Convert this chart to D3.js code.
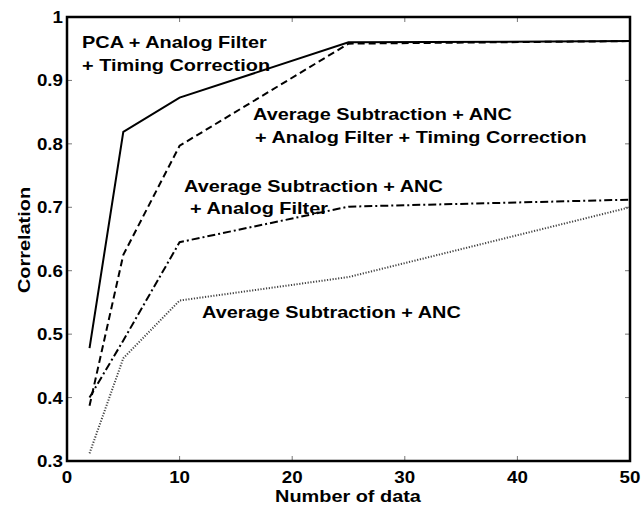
<!DOCTYPE html>
<html>
<head>
<meta charset="utf-8">
<script src="https://cdn.jsdelivr.net/npm/d3@7"></script>
<style>
  html, body { margin: 0; padding: 0; background: #fff; overflow: hidden; }
  svg { display: block; }
  svg text { font-family: "Liberation Sans", Arial, Helvetica, sans-serif; font-weight: bold; fill: #000; }
</style>
</head>
<body>
<svg class="chart" width="642" height="505"></svg>
<script>
// number of data points used
const xValues = [2, 5, 10, 25, 50];

// correlation for each method
const pcaAnalogTiming = [0.478, 0.819, 0.873, 0.960, 0.962];
const avgAncAnalogTiming = [0.387, 0.625, 0.797, 0.958, 0.962];
const avgAncAnalog = [0.400, 0.490, 0.645, 0.701, 0.712];
const avgAnc = [0.312, 0.462, 0.553, 0.590, 0.700];

const xTicks = [0, 10, 20, 30, 40, 50];
const yTicks = [0.3, 0.4, 0.5, 0.6, 0.7, 0.8, 0.9, 1];

const series = [
  { values: pcaAnalogTiming, dash: null, color: "#000", width: 2 },
  { values: avgAncAnalogTiming, dash: "7,4", color: "#000", width: 2 },
  { values: avgAncAnalog, dash: "8,3,2,3", color: "#000", width: 2 },
  { values: avgAnc, dash: "1.2,1.6", color: "#444", width: 2 }
];

const svg = d3.select(".chart");
const margin = { top: 17, right: 12, bottom: 44, left: 67 };
const width = +svg.attr("width");
const height = +svg.attr("height");
const innerWidth = width - margin.left - margin.right;
const innerHeight = height - margin.top - margin.bottom;

const x = d3.scaleLinear().domain([0, 50]).range([margin.left, margin.left + innerWidth]);
const y = d3.scaleLinear().domain([0.3, 1]).range([margin.top + innerHeight, margin.top]);

// the original lettering is a bit wider than Arial, so stretch it sideways
const stretch = 1.17;
const widen = sel => sel.each(function () {
  const w = this.getComputedTextLength();
  d3.select(this).attr("textLength", w * stretch).attr("lengthAdjust", "spacingAndGlyphs");
});

// inward ticks on all four sides
const tickLen = 5;
const tickG = svg.append("g").attr("stroke", "#777").attr("stroke-width", 1);
xTicks.slice(1, -1).forEach(t => {
  tickG.append("line").attr("x1", x(t)).attr("x2", x(t)).attr("y1", y(0.3)).attr("y2", y(0.3) - tickLen);
  tickG.append("line").attr("x1", x(t)).attr("x2", x(t)).attr("y1", y(1)).attr("y2", y(1) + tickLen);
});
yTicks.slice(1, -1).forEach(t => {
  tickG.append("line").attr("x1", x(0)).attr("x2", x(0) + tickLen).attr("y1", y(t)).attr("y2", y(t));
  tickG.append("line").attr("x1", x(50)).attr("x2", x(50) - tickLen).attr("y1", y(t)).attr("y2", y(t));
});

// tick labels
svg.append("g").selectAll("text")
  .data(xTicks)
  .enter().append("text")
  .attr("x", d => x(d))
  .attr("y", 483)
  .attr("text-anchor", "middle")
  .style("font-size", "16px")
  .text(d => d)
  .call(widen);

svg.append("g").selectAll("text")
  .data(yTicks)
  .enter().append("text")
  .attr("x", x(0) - 4)
  .attr("y", d => y(d) + 6)
  .attr("text-anchor", "end")
  .style("font-size", "16px")
  .text(d => d3.format("")(d))
  .call(widen);

// lines
const line = d3.line()
  .x((d, i) => x(xValues[i]))
  .y(d => y(d));

series.forEach(s => {
  svg.append("path")
    .datum(s.values)
    .attr("d", line)
    .attr("fill", "none")
    .attr("stroke", s.color)
    .attr("stroke-width", s.width)
    .attr("stroke-dasharray", s.dash);
});

// frame
svg.append("rect")
  .attr("x", x(0)).attr("y", y(1))
  .attr("width", x(50) - x(0)).attr("height", y(0.3) - y(1))
  .attr("fill", "none").attr("stroke", "#000").attr("stroke-width", 2.5);

// annotations
const notes = [
  { x: 82, y: 48, text: "PCA + Analog Filter" },
  { x: 82, y: 71, text: "+ Timing Correction" },
  { x: 253, y: 120, text: "Average Subtraction + ANC" },
  { x: 255, y: 143, text: "+ Analog Filter + Timing Correction" },
  { x: 184, y: 192, text: "Average Subtraction + ANC" },
  { x: 190, y: 214, text: "+ Analog Filter" },
  { x: 202, y: 318, text: "Average Subtraction + ANC" }
];
svg.append("g").selectAll("text")
  .data(notes)
  .enter().append("text")
  .attr("x", d => d.x)
  .attr("y", d => d.y)
  .style("font-size", "17px")
  .text(d => d.text)
  .call(widen);

// axis titles
svg.append("text")
  .attr("x", 348)
  .attr("y", 502)
  .attr("text-anchor", "middle")
  .style("font-size", "17px")
  .text("Number of data")
  .call(widen);

svg.append("text")
  .attr("transform", "translate(30,240) rotate(-90)")
  .attr("text-anchor", "middle")
  .style("font-size", "17px")
  .text("Correlation")
  .call(widen);
</script>
</body>
</html>
